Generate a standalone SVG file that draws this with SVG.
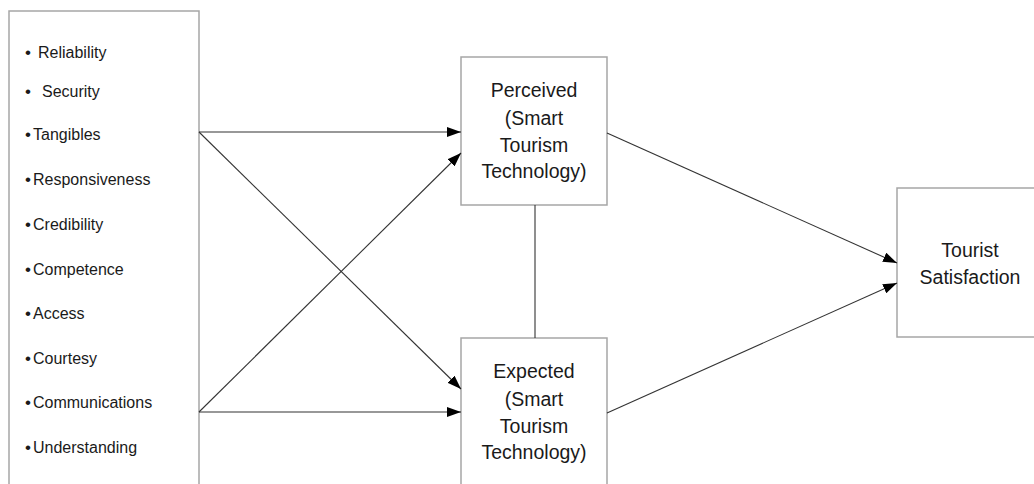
<svg xmlns="http://www.w3.org/2000/svg" width="1034" height="484" viewBox="0 0 1034 484">
<style>
.box{fill:#fff;stroke:#a6a6a6;stroke-width:1.5}
.item{font-family:"Liberation Sans",Arial,sans-serif;font-size:16px;fill:#1a1a1a}
.b{font-size:17px}
.lbl{font-family:"Liberation Sans",Arial,sans-serif;font-size:19.5px;fill:#1a1a1a;text-anchor:middle}
.c{stroke:#333;stroke-width:1.1;fill:none}
</style>
<defs>
<marker id="ah" viewBox="0 0 14 10" refX="14" refY="5" markerWidth="14" markerHeight="10" markerUnits="userSpaceOnUse" orient="auto">
<path d="M0,0 L14,5 L0,10 z" fill="#000"/>
</marker>
</defs>
<rect width="1034" height="484" fill="#fff"/>
<g id="dimensions">
<rect class="box" x="9" y="11" width="190" height="500"/>
<text class="item" y="58"><tspan class="b" x="25">•</tspan><tspan x="38">Reliability</tspan></text>
<text class="item" y="97"><tspan class="b" x="25">•</tspan><tspan x="42">Security</tspan></text>
<text class="item" y="140"><tspan class="b" x="25">•</tspan><tspan x="33">Tangibles</tspan></text>
<text class="item" y="185"><tspan class="b" x="25">•</tspan><tspan x="33">Responsiveness</tspan></text>
<text class="item" y="230"><tspan class="b" x="25">•</tspan><tspan x="33">Credibility</tspan></text>
<text class="item" y="275"><tspan class="b" x="25">•</tspan><tspan x="33">Competence</tspan></text>
<text class="item" y="319"><tspan class="b" x="25">•</tspan><tspan x="33">Access</tspan></text>
<text class="item" y="364"><tspan class="b" x="25">•</tspan><tspan x="33">Courtesy</tspan></text>
<text class="item" y="408"><tspan class="b" x="25">•</tspan><tspan x="33">Communications</tspan></text>
<text class="item" y="453"><tspan class="b" x="25">•</tspan><tspan x="33">Understanding</tspan></text>
</g>
<g id="perceived">
<rect class="box" x="461" y="57" width="146" height="148"/>
<text class="lbl" x="534" y="97">Perceived</text>
<text class="lbl" x="534" y="125">(Smart</text>
<text class="lbl" x="534" y="152">Tourism</text>
<text class="lbl" x="534" y="178">Technology)</text>
</g>
<g id="expected">
<rect class="box" x="461" y="338" width="146" height="200"/>
<text class="lbl" x="534" y="378">Expected</text>
<text class="lbl" x="534" y="406">(Smart</text>
<text class="lbl" x="534" y="433">Tourism</text>
<text class="lbl" x="534" y="459">Technology)</text>
</g>
<g id="satisfaction">
<rect class="box" x="897" y="188" width="200" height="149"/>
<text class="lbl" x="970" y="257">Tourist</text>
<text class="lbl" x="970" y="284">Satisfaction</text>
</g>
<g id="connectors">
<line class="c" x1="199" y1="132" x2="461" y2="132" marker-end="url(#ah)"/>
<line class="c" x1="199" y1="132" x2="461" y2="389" marker-end="url(#ah)"/>
<line class="c" x1="199" y1="412" x2="461" y2="153" marker-end="url(#ah)"/>
<line class="c" x1="199" y1="412" x2="461" y2="412" marker-end="url(#ah)"/>
<line class="c" x1="535" y1="205" x2="535" y2="338"/>
<line class="c" x1="607" y1="133" x2="897" y2="263" marker-end="url(#ah)"/>
<line class="c" x1="607" y1="413" x2="897" y2="283" marker-end="url(#ah)"/>
</g>
</svg>
